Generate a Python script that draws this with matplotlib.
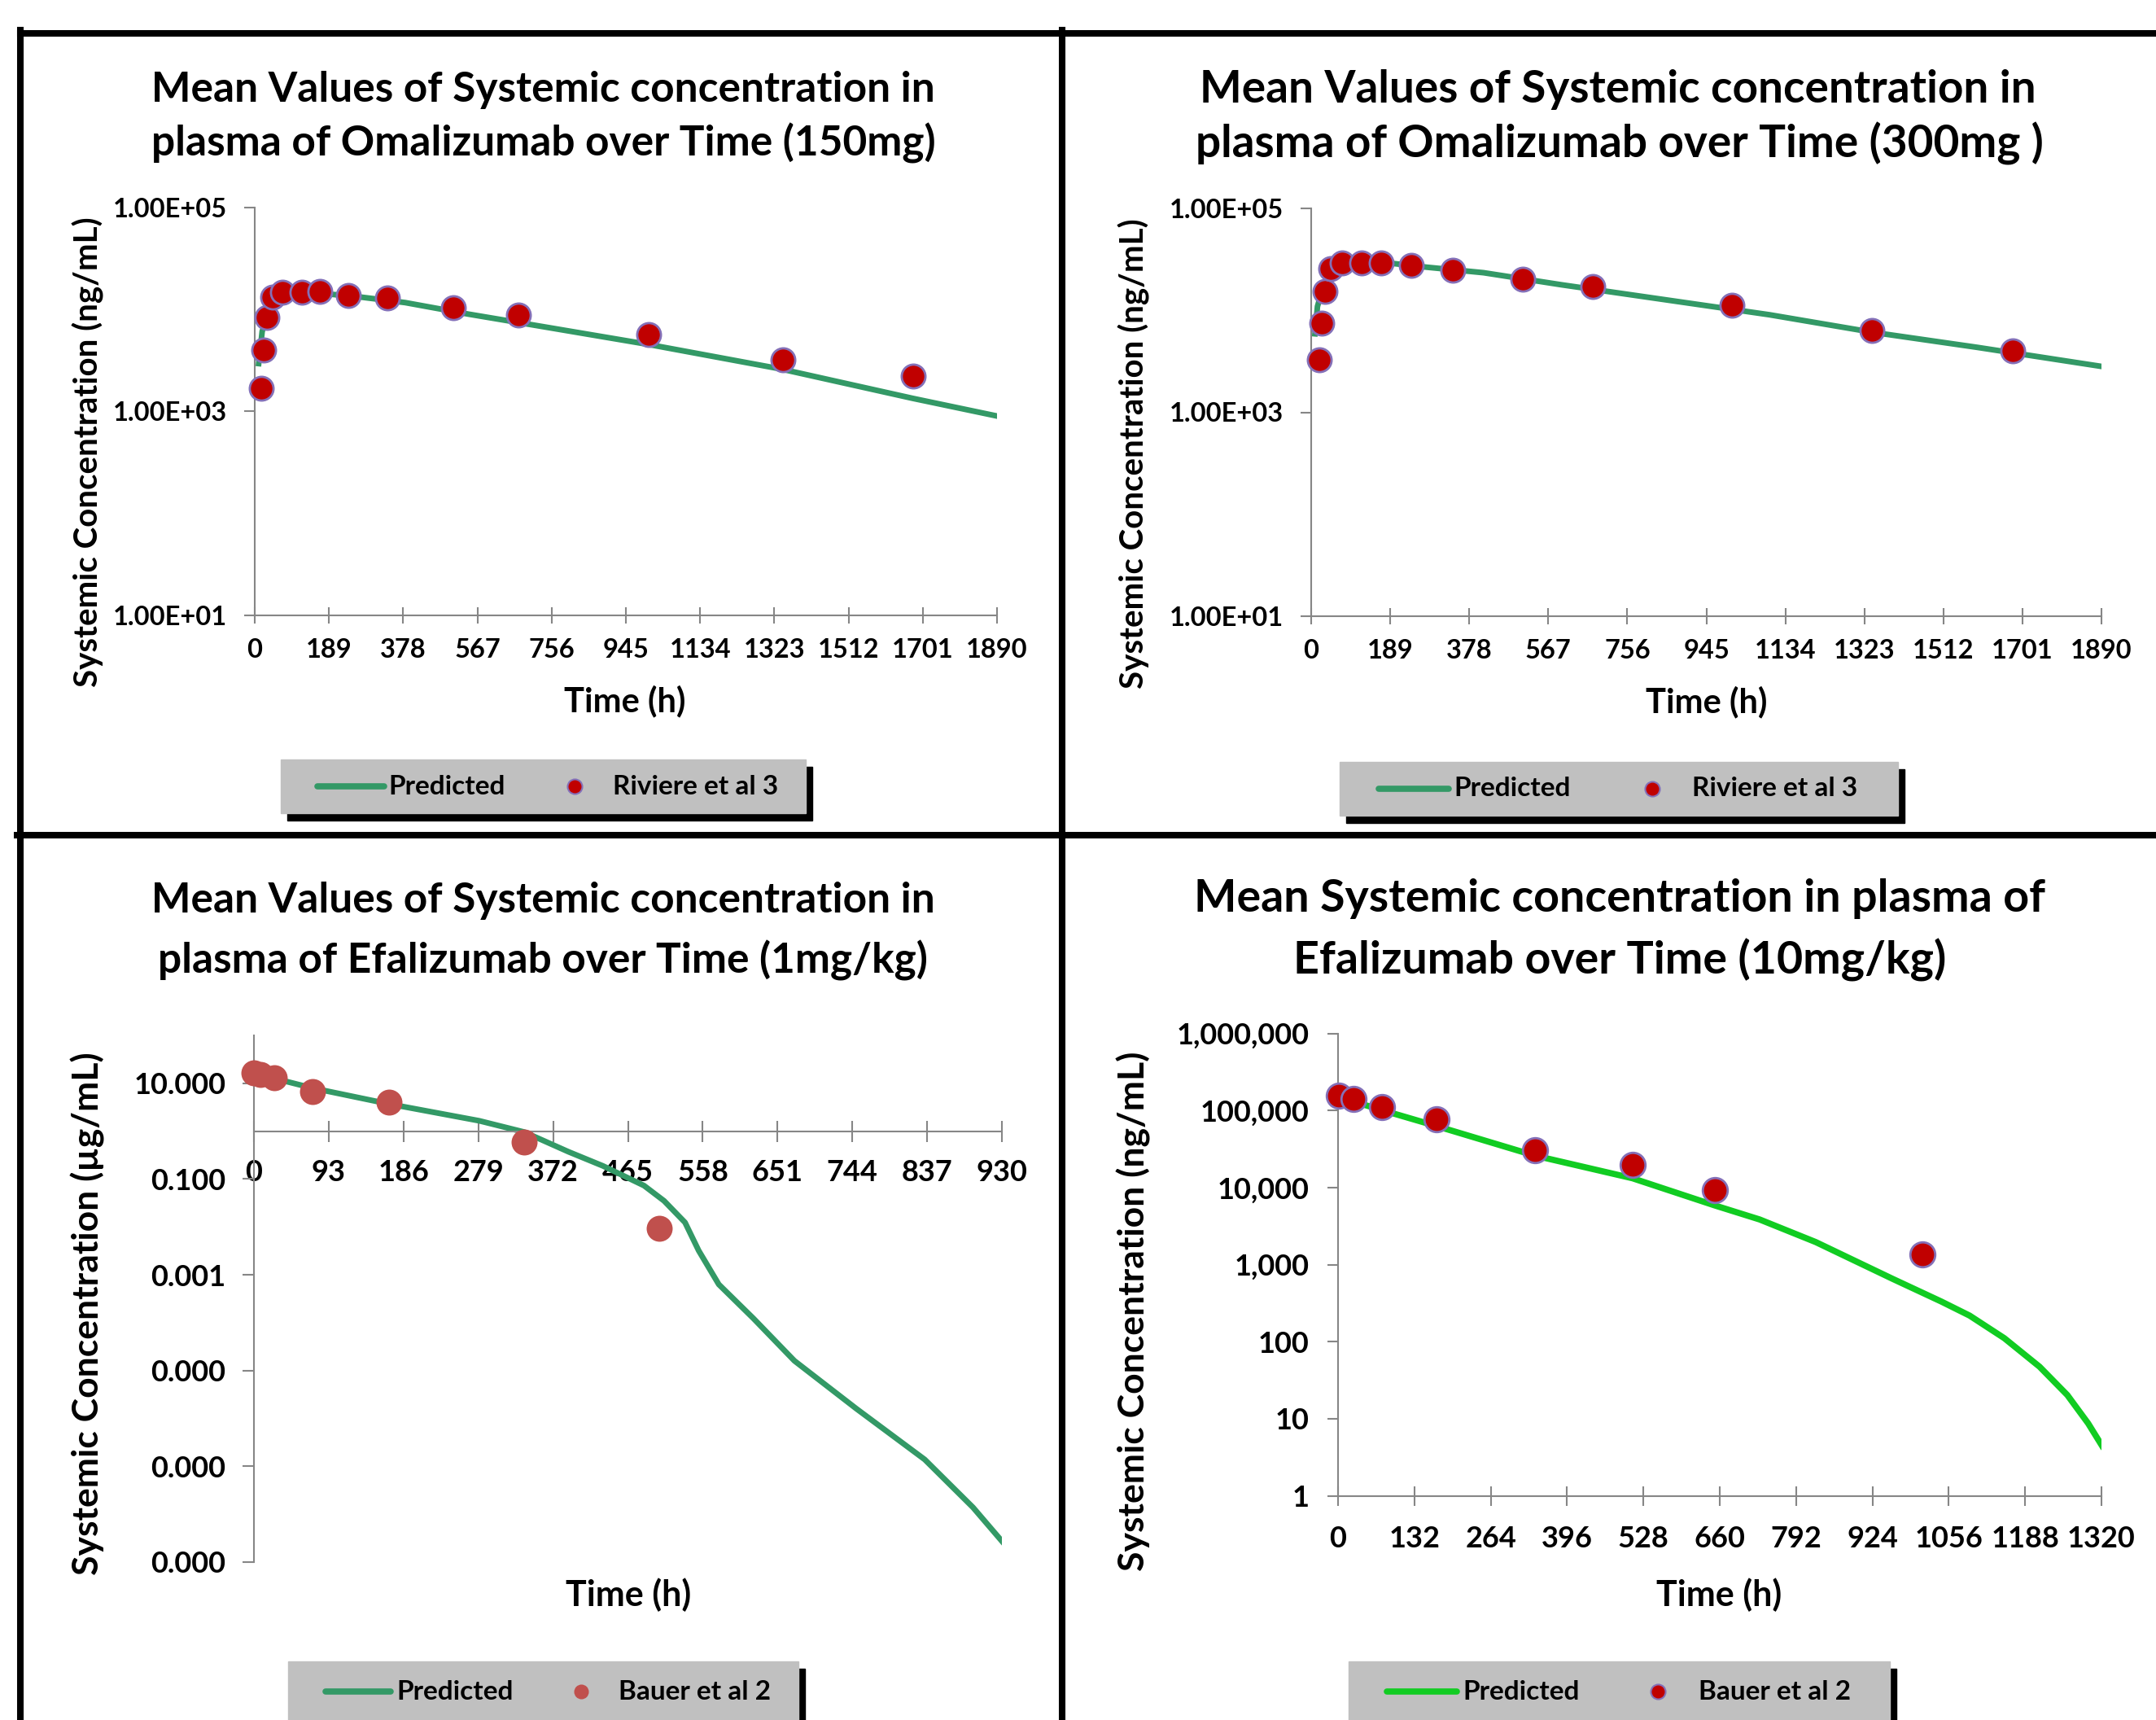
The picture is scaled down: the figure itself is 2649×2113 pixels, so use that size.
import matplotlib
matplotlib.use("Agg")
import matplotlib.pyplot as plt
from matplotlib.lines import Line2D
from matplotlib.patches import Rectangle
from matplotlib.ticker import NullLocator

plt.rcParams['font.family'] = ['Lato', 'DejaVu Sans']
plt.rcParams['font.weight'] = 'bold'

# --- data ---
# Omalizumab 150 mg (ng/mL)
obs_150_t = [17, 23, 32, 45, 70, 120, 166, 238, 337, 505, 671, 1004, 1344, 1677]
obs_150_c = [1690, 3990, 8340, 13200, 14700, 14700, 14900, 13600, 12970, 10450, 8750, 5660, 3220, 2200]
pred_150_t = [10, 19, 48, 72, 160, 271, 383, 545, 718, 1004, 1340, 1675, 1896]
pred_150_c = [2940, 6120, 12050, 14500, 14500, 13200, 11670, 8980, 6940, 4520, 2600, 1340, 888]

# Omalizumab 300 mg (ng/mL)
obs_300_t = [19, 25, 34, 46, 73, 121, 167, 239, 338, 506, 673, 1006, 1342, 1677]
obs_300_c = [3260, 7450, 15400, 25600, 29000, 29000, 29000, 27600, 24900, 20300, 17200, 11200, 6380, 4030]
pred_300_t = [9, 15, 30, 50, 100, 176, 276, 412, 599, 847, 1096, 1344, 1592, 1897]
pred_300_c = [5890, 10900, 18000, 26000, 29500, 29400, 26500, 23400, 17800, 12700, 9050, 6080, 4340, 2790]

# Efalizumab 1 mg/kg (ug/mL)
obs_1_t = [0, 8, 25, 73, 168, 336, 504]
obs_1_c = [16.8, 15.0, 13.0, 6.6, 4.0, 0.60, 0.0095]
pred_1_t = [0, 25, 72, 167, 280, 336, 391, 434, 485, 510, 536, 553, 578, 621, 672, 749, 834, 894, 932]
pred_1_c = [14.5, 12.7, 8.0, 3.73, 1.65, 0.96, 0.372, 0.188, 0.073, 0.035, 0.0124, 0.0032, 6.3e-4,
            1.23e-4, 1.6e-5, 1.6e-6, 1.39e-7, 1.39e-8, 2.5e-9]

# Efalizumab 10 mg/kg (ng/mL)
obs_10_t = [1, 27, 76, 170, 340, 509, 651, 1011]
obs_10_c = [154000, 141000, 110000, 77100, 30400, 19900, 9290, 1350]
pred_10_t = [0, 76, 170, 340, 509, 651, 729, 826, 959, 1043, 1092, 1152, 1213, 1261, 1297, 1321]
pred_10_c = [150000, 101000, 62800, 26000, 13200, 5870, 3850, 1960, 653, 332, 218, 111,
             47.3, 20.3, 8.7, 4.45]

ticks_omal_x = list(range(0, 1891, 189))
ticks_efa1_x = list(range(0, 931, 93))
ticks_efa10_x = list(range(0, 1321, 132))
ticks_omal_y = [1e1, 1e3, 1e5]
ticks_efa1_y = [1e-9, 1e-7, 1e-5, 1e-3, 1e-1, 1e1]
ticks_efa10_y = [1, 10, 100, 1e3, 1e4, 1e5, 1e6]

GREEN = '#339966'
LIME = '#11cc22'
RED = '#c00000'
EDGE = '#8470b8'
SALMON = '#c0504d'
AXC = '#868686'

W, H, DPI = 2649, 2113, 100
fig = plt.figure(figsize=(W / DPI, H / DPI), dpi=DPI)


def fx(x):
    return x / W


def fy(y):
    return 1 - y / H


def panel(l, t, r, b):
    return fig.add_axes([fx(l), fy(b), (r - l) / W, (b - t) / H])


def style(ax, xlen, ylen, fs, xpad, ypad):
    ax.set_facecolor('none')
    for s in ['top', 'right']:
        ax.spines[s].set_visible(False)
    for s in ['left', 'bottom']:
        ax.spines[s].set_color(AXC)
        ax.spines[s].set_linewidth(1.5)
    ax.tick_params(axis='x', direction='inout', length=xlen, width=1.5, color=AXC,
                   labelsize=fs, pad=xpad)
    ax.tick_params(axis='y', direction='out', length=ylen, width=1.5, color=AXC,
                   labelsize=fs, pad=ypad)
    ax.yaxis.set_minor_locator(NullLocator())


def legend(box, line_x, t1_x, mk_x, t2_x, ymid, lcolor, mface, medge, mew, label2):
    x0, y0, x1, y1 = box
    fig.add_artist(Rectangle((fx(x0 + 8), fy(y1 + 9)), (x1 - x0) / W, (y1 - y0) / H,
                             transform=fig.transFigure, color='black', zorder=1))
    fig.add_artist(Rectangle((fx(x0), fy(y1)), (x1 - x0) / W, (y1 - y0) / H,
                             transform=fig.transFigure, color='#c0c0c0', zorder=2))
    fig.add_artist(Line2D([fx(line_x[0]), fx(line_x[1])], [fy(ymid), fy(ymid)],
                          transform=fig.transFigure, color=lcolor, lw=5.5,
                          solid_capstyle='round', zorder=3))
    fig.text(fx(t1_x), fy(ymid), 'Predicted', fontsize=24, ha='left', va='center', zorder=3)
    fig.add_artist(Line2D([fx(mk_x)], [fy(ymid)], transform=fig.transFigure, ls='none',
                          marker='o', ms=13, mfc=mface, mec=medge, mew=mew, zorder=3))
    fig.text(fx(t2_x), fy(ymid), label2, fontsize=24, ha='left', va='center', zorder=3)


# --- panel 1: Omalizumab 150 mg ---
ax1 = panel(313, 255, 1225, 755.5)
ax1.plot(pred_150_t, pred_150_c, color=GREEN, lw=5, zorder=2, solid_joinstyle='round')
ax1.plot(obs_150_t, obs_150_c, 'o', ms=21, mfc=RED, mec=EDGE, mew=2, zorder=3, clip_on=False)
ax1.set_yscale('log')
ax1.set_xlim(0, 1890)
ax1.set_ylim(10, 1e5)
ax1.set_xticks(ticks_omal_x)
ax1.set_yticks(ticks_omal_y)
ax1.set_yticklabels([f"{v:.2E}" for v in ticks_omal_y])
style(ax1, 14.4, 9.4, 23.5, 13, 15)

# --- panel 2: Omalizumab 300 mg ---
ax2 = panel(1611, 256, 2582, 757)
ax2.plot(pred_300_t, pred_300_c, color=GREEN, lw=5, zorder=2, solid_joinstyle='round')
ax2.plot(obs_300_t, obs_300_c, 'o', ms=21, mfc=RED, mec=EDGE, mew=2, zorder=3, clip_on=False)
ax2.set_yscale('log')
ax2.set_xlim(0, 1890)
ax2.set_ylim(10, 1e5)
ax2.set_xticks(ticks_omal_x)
ax2.set_yticks(ticks_omal_y)
ax2.set_yticklabels([f"{v:.2E}" for v in ticks_omal_y])
style(ax2, 14.4, 9.4, 23.5, 13, 15)

# --- panel 3: Efalizumab 1 mg/kg ---
ax3 = panel(312, 1272, 1231, 1919)
ax3.plot(pred_1_t, pred_1_c, color=GREEN, lw=5, zorder=2, solid_joinstyle='round')
ax3.plot(obs_1_t, obs_1_c, 'o', ms=23, mfc=SALMON, mec='none', zorder=3, clip_on=False)
ax3.set_yscale('log')
ax3.set_xlim(0, 930)
ax3.set_ylim(1e-9, 100)
ax3.set_xticks(ticks_efa1_x)
ax3.set_yticks(ticks_efa1_y)
ax3.set_yticklabels([f"{v:.3f}" for v in ticks_efa1_y])
ax3.spines['bottom'].set_position(('data', 1))
style(ax3, 19, 10, 26, 15, 15)

# --- panel 4: Efalizumab 10 mg/kg ---
ax4 = panel(1644, 1269.5, 2582, 1837.6)
ax4.plot(pred_10_t, pred_10_c, color=LIME, lw=5.5, zorder=2, solid_joinstyle='round')
ax4.plot(obs_10_t, obs_10_c, 'o', ms=22, mfc=RED, mec=EDGE, mew=2, zorder=3, clip_on=False)
ax4.set_yscale('log')
ax4.set_xlim(0, 1320)
ax4.set_ylim(1, 1e6)
ax4.set_xticks(ticks_efa10_x)
ax4.set_yticks(ticks_efa10_y)
ax4.set_yticklabels([f"{v:,.0f}" for v in ticks_efa10_y])
style(ax4, 17, 9.4, 26, 18, 16)

# --- titles and axis labels ---
fig.text(fx(667), fy(110), 'Mean Values of Systemic concentration in', fontsize=37, ha='center', va='center')
fig.text(fx(668), fy(176), 'plasma of Omalizumab over Time (150mg)', fontsize=37, ha='center', va='center')
fig.text(fx(1988), fy(110), 'Mean Values of Systemic concentration in', fontsize=39.5, ha='center', va='center')
fig.text(fx(1990), fy(176), 'plasma of Omalizumab over Time (300mg )', fontsize=39.5, ha='center', va='center')
fig.text(fx(667), fy(1107), 'Mean Values of Systemic concentration in', fontsize=37, ha='center', va='center')
fig.text(fx(667), fy(1180), 'plasma of Efalizumab over Time (1mg/kg)', fontsize=37, ha='center', va='center')
fig.text(fx(1990), fy(1104), 'Mean Systemic concentration in plasma of', fontsize=40, ha='center', va='center')
fig.text(fx(1990), fy(1179), 'Efalizumab over Time (10mg/kg)', fontsize=40, ha='center', va='center')

fig.text(fx(108), fy(555), 'Systemic Concentration (ng/mL)', fontsize=29, rotation=90, ha='center', va='center')
fig.text(fx(1393), fy(557), 'Systemic Concentration (ng/mL)', fontsize=29, rotation=90, ha='center', va='center')
fig.text(fx(108), fy(1614), 'Systemic Concentration (\u00b5g/mL)', fontsize=32, rotation=90, ha='center', va='center')
fig.text(fx(1393), fy(1611), 'Systemic Concentration (ng/mL)', fontsize=32, rotation=90, ha='center', va='center')

fig.text(fx(768), fy(861), 'Time (h)', fontsize=30, ha='center', va='center')
fig.text(fx(2097), fy(862), 'Time (h)', fontsize=30, ha='center', va='center')
fig.text(fx(772), fy(1959), 'Time (h)', fontsize=31, ha='center', va='center')
fig.text(fx(2112), fy(1959), 'Time (h)', fontsize=31, ha='center', va='center')

# --- legends ---
legend((345, 933, 990, 999), (390, 472), 477, 706, 753, 966, GREEN, RED, EDGE, 1.5, 'Riviere et al 3')
legend((1646, 936, 2332, 1002), (1694, 1780), 1786, 2030, 2079, 969, GREEN, RED, EDGE, 1.5, 'Riviere et al 3')
legend((354, 2041, 981, 2125), (400, 480), 487, 714, 760, 2078, GREEN, SALMON, 'none', 0, 'Bauer et al 2')
legend((1657, 2041, 2322, 2125), (1704, 1790), 1797, 2037, 2087, 2078, LIME, RED, EDGE, 1.5, 'Bauer et al 2')

# --- panel frame ---
frame = [((25, 41), (2649, 41)), ((25, 37), (25, 2113)), ((1305, 37), (1305, 2113)),
         ((21, 1026), (2649, 1026))]
for (xa, ya), (xb, yb) in frame:
    fig.add_artist(Line2D([fx(xa), fx(xb)], [fy(ya), fy(yb)], transform=fig.transFigure,
                          color='black', lw=5.8, zorder=4))

fig.savefig('out.png', dpi=DPI)
